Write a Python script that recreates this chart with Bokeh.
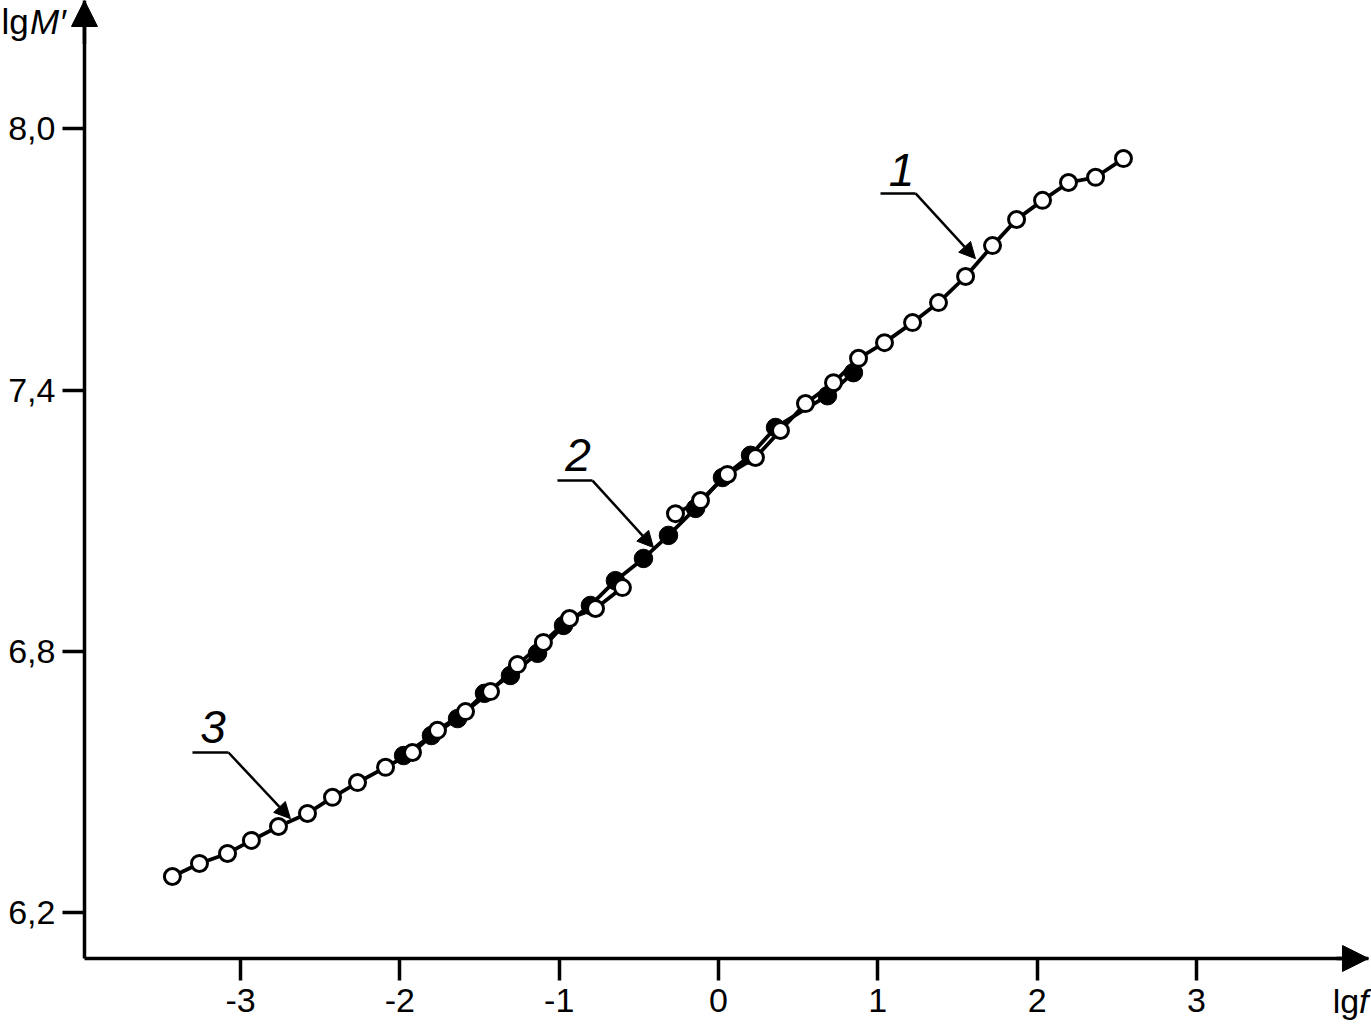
from bokeh.plotting import figure
from bokeh.models import Range1d, FixedTicker, Arrow, NormalHead, Label, LinearAxis
from bokeh.embed import file_html
from bokeh.resources import INLINE

# ---- data (lg f, lg M') ----
# curve 3 (open circles, low-frequency part)
s3_x = [-3.428, -3.258, -3.082, -2.932, -2.762, -2.580, -2.423, -2.266, -2.090,
        -1.921, -1.764, -1.588, -1.431, -1.262, -1.099, -0.935, -0.772, -0.603]
s3_y = [6.282, 6.312, 6.335, 6.365, 6.397, 6.427, 6.464, 6.498, 6.533,
        6.567, 6.618, 6.661, 6.707, 6.769, 6.820, 6.875, 6.898, 6.946]
# curve 2 (filled circles)
s2_x = [-1.977, -1.802, -1.638, -1.469, -1.306, -1.136, -0.973, -0.804, -0.647,
        -0.471, -0.314, -0.144, 0.025, 0.201, 0.358, 0.684, 0.847]
s2_y = [6.560, 6.606, 6.645, 6.703, 6.744, 6.795, 6.859, 6.905, 6.962,
        7.013, 7.066, 7.128, 7.199, 7.250, 7.314, 7.387, 7.440]
# curve 1 (open circles, high-frequency part)
s1_x = [-0.270, -0.113, 0.056, 0.232, 0.389, 0.546, 0.722, 0.879, 1.042,
        1.218, 1.381, 1.551, 1.720, 1.871, 2.034, 2.197, 2.367, 2.542]
s1_y = [7.116, 7.146, 7.206, 7.245, 7.307, 7.369, 7.417, 7.473, 7.509,
        7.555, 7.601, 7.661, 7.732, 7.792, 7.836, 7.877, 7.889, 7.932]

x_ticks = [-3, -2, -1, 0, 1, 2, 3]
x_tick_labels = ["-3", "-2", "-1", "0", "1", "2", "3"]
y_ticks = [6.2, 6.8, 7.4, 8.0]
y_tick_labels = ["6,2", "6,8", "7,4", "8,0"]

# curve labels: text, text pos, underline, leader tip
curve_names = ["1", "2", "3"]
name_x = [1.149, -0.882, -3.173]
name_y = [7.905, 7.250, 6.625]
under_x0 = [1.017, -1.011, -3.302]
under_x1 = [1.237, -0.791, -3.076]
under_y = [7.852, 7.192, 6.567]
tip_x = [1.613, -0.408, -2.687]
tip_y = [7.702, 7.038, 6.415]

# plot area / axes positions (data units)
X0, X1 = -4.507, 4.099
Y0, Y1 = 5.9396, 8.2953
AX_X = -3.980      # where the lg M' axis stands
AX_Y = 6.0936      # where the lg f axis stands
AX_XEND = 4.080    # tip of the lg f arrow
FONT = "Liberation Sans"

p = figure(width=1371, height=1025, x_range=Range1d(X0, X1), y_range=Range1d(Y0, Y1),
           output_backend="svg", toolbar_location=None,
           x_axis_location=None, y_axis_location=None,
           min_border_left=0, min_border_right=0, min_border_top=0, min_border_bottom=0)
p.outline_line_color = None
p.xgrid.visible = False
p.ygrid.visible = False
p.background_fill_color = "white"
p.border_fill_color = "white"

xax = LinearAxis(fixed_location=AX_Y, bounds=(AX_X, AX_XEND), ticker=FixedTicker(ticks=x_ticks),
                 major_label_overrides=dict(zip(x_ticks, x_tick_labels)), major_label_standoff=9)
yax = LinearAxis(fixed_location=AX_X, bounds=(AX_Y, Y1), ticker=FixedTicker(ticks=y_ticks),
                 major_label_overrides=dict(zip(y_ticks, y_tick_labels)), major_label_standoff=7)
for ax in (xax, yax):
    ax.axis_line_width = 3.5
    ax.axis_line_color = "black"
    ax.major_tick_line_width = 3.5
    ax.major_tick_line_color = "black"
    ax.major_tick_out = 22
    ax.major_tick_in = 0
    ax.minor_tick_line_color = None
    ax.major_label_text_font = FONT
    ax.major_label_text_font_size = "34px"
    ax.major_label_text_color = "black"
p.add_layout(xax, "below")
p.add_layout(yax, "left")

# axis arrow heads
p.add_layout(Arrow(end=NormalHead(size=26, fill_color="black", line_color="black"),
                   x_start=AX_XEND - 0.2, y_start=AX_Y, x_end=AX_XEND, y_end=AX_Y,
                   line_width=3.5, line_color="black"))
p.add_layout(Arrow(end=NormalHead(size=26, fill_color="black", line_color="black"),
                   x_start=AX_X, y_start=Y1 - 0.1, x_end=AX_X, y_end=Y1,
                   line_width=3.5, line_color="black"))

# series
p.line(s2_x, s2_y, line_width=3.8, color="black")
p.scatter(s2_x, s2_y, size=18.5, fill_color="black", line_color="black", line_width=1)
p.line(s3_x, s3_y, line_width=3.8, color="black")
p.line(s1_x, s1_y, line_width=3.8, color="black")
p.scatter(s3_x, s3_y, size=16, fill_color="white", line_color="black", line_width=3)
p.scatter(s1_x, s1_y, size=16, fill_color="white", line_color="black", line_width=3)

# curve labels with leader arrows
p.segment(x0=under_x0, y0=under_y, x1=under_x1, y1=under_y, line_width=2.5, color="black")
for i, name in enumerate(curve_names):
    p.add_layout(Label(x=name_x[i], y=name_y[i], text=name, text_align="center",
                       text_baseline="alphabetic", text_font=FONT, text_font_style="italic",
                       text_font_size="46px", text_color="black"))
    p.add_layout(Arrow(end=NormalHead(size=16, fill_color="black", line_color="black", line_width=1),
                       x_start=under_x1[i], y_start=under_y[i], x_end=tip_x[i], y_end=tip_y[i],
                       line_width=2.5, line_color="black"))

# axis titles
p.add_layout(Label(x=-4.501, y=8.247, text="lg", text_font=FONT, text_font_size="35px",
                   text_baseline="alphabetic", text_color="black"))
p.add_layout(Label(x=-4.322, y=8.247, text="M\u2032", text_font=FONT, text_font_size="35px",
                   text_font_style="italic", text_baseline="alphabetic", text_color="black"))
p.add_layout(Label(x=3.855, y=5.997, text="lg", text_font=FONT, text_font_size="34px",
                   text_baseline="alphabetic", text_color="black"))
p.add_layout(Label(x=4.020, y=5.997, text="f", text_font=FONT, text_font_size="34px",
                   text_font_style="italic", text_baseline="alphabetic", text_color="black"))

open("out.html", "w").write(file_html(p, INLINE))
